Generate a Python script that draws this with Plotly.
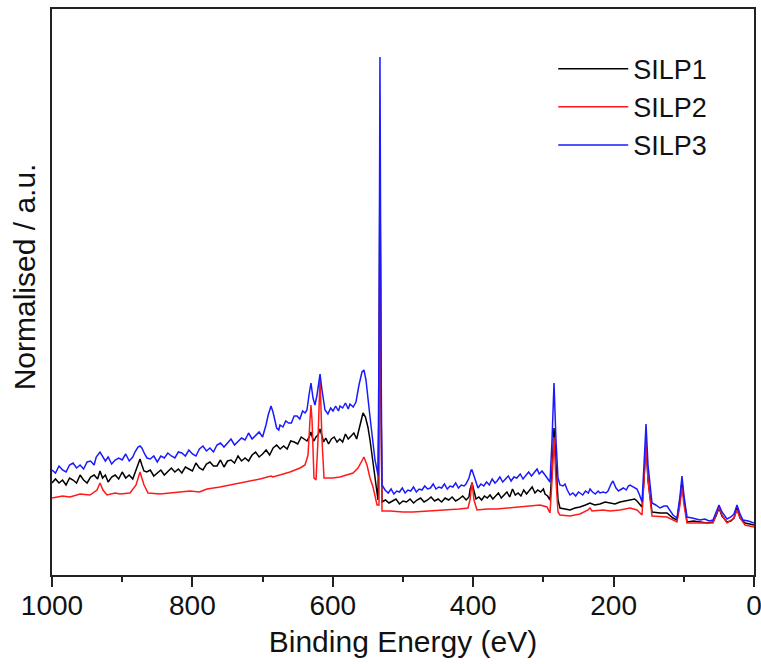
import plotly.graph_objects as go

# (binding energy / eV, normalised intensity / a.u.)
silp1 = [
    (1000, 92), (995, 96), (990, 92), (985, 95), (980, 90), (975, 97), (970, 95), (965, 92), (960, 100), (955, 95),
    (950, 92), (945, 98), (940, 100), (935, 96), (931.6, 104), (928, 97), (924, 100), (920, 93), (915, 98), (910, 100),
    (905, 96), (900, 103), (895, 97), (890, 100), (885, 96), (880, 106), (876.5, 113), (874.6, 116), (872, 110), (869, 104),
    (865, 103), (860, 105), (855, 99), (850, 102), (845, 105), (840, 100), (835, 104), (830, 107), (825, 103), (820, 106),
    (815, 102), (810, 108), (805, 106), (800, 104), (795, 112), (790, 107), (785, 105), (780, 111), (775, 113), (770, 109),
    (765, 109), (760, 115), (755, 108), (750, 114), (745, 115), (740, 112), (735, 119), (730, 114), (725, 117), (720, 114),
    (715, 120), (710, 123), (705, 118), (700, 121), (695, 125), (690, 120), (685, 127), (680, 130), (675, 126), (670, 129),
    (665, 126), (660, 134), (655, 133), (650, 131), (645, 138), (640, 136), (636.8, 134), (633, 139), (631.1, 143), (628.5, 136),
    (626.8, 134), (624, 138), (621, 140), (618.2, 146), (615.5, 138), (613, 133), (610, 137), (606, 131), (602, 136), (598, 138),
    (594, 133), (590, 136), (586, 133), (582, 141), (578, 136), (574, 139), (570, 142), (566, 136), (563, 145), (560, 153),
    (557, 162), (553.5, 158), (550, 148), (547, 135), (544, 118), (541.3, 105), (539, 90), (537, 78), (535.6, 75), (534.2, 175),
    (532.8, 425), (531.3, 175), (529.9, 73), (525, 75), (520, 72), (515, 74), (510, 76), (505, 71), (500, 74), (495, 73),
    (490, 76), (485, 72), (480, 75), (475, 77), (470, 73), (465, 75), (460, 78), (455, 74), (450, 76), (445, 73),
    (440, 77), (435, 75), (430, 78), (425, 74), (420, 76), (415, 79), (410, 75), (406, 78), (404.6, 85), (401.7, 92),
    (398.9, 85), (396, 76), (392, 78), (388, 75), (384, 79), (380, 77), (376, 80), (372, 76), (368, 79), (364, 82),
    (360, 77), (356, 80), (352, 83), (348, 78), (344, 86), (340, 80), (336, 82), (332, 79), (328, 85), (324, 81),
    (320, 84), (316, 88), (312, 82), (308, 85), (304, 83), (300, 86), (297.7, 81), (294, 79), (290.6, 75), (287.7, 105),
    (284.9, 147), (282.1, 105), (279.2, 75), (276.4, 67), (270, 66), (262.1, 65), (255, 67), (247.9, 68), (240, 70), (233.6, 72),
    (227, 70), (219.4, 71), (212, 73), (205.1, 72), (198, 71), (190.9, 73), (184, 74), (176.6, 75), (170, 76), (166.7, 74),
    (162, 70), (159.5, 68), (156.7, 95), (153.8, 134), (151.0, 95), (145.3, 63), (133.9, 62), (123.9, 62), (115.4, 57), (109.7, 55),
    (105.4, 75), (102.6, 93), (99.7, 75), (95.4, 53), (86, 54), (76.9, 53), (67, 52), (58.4, 53), (54.1, 59), (49.9, 67),
    (45.6, 59), (38.5, 53), (33, 54), (28.5, 57), (24.2, 67), (19.9, 57), (12.8, 52), (6, 51), (0, 50),
]

silp2 = [
    (1000, 77), (985, 79), (974.4, 78), (960, 81), (945.9, 80), (935.9, 85), (931.6, 92), (927.4, 85), (921.7, 80), (910, 82),
    (903.1, 81), (888.9, 82), (880.3, 90), (874.6, 103), (868.9, 90), (863.2, 82), (846.2, 81), (827.6, 82), (803.4, 84), (790, 83),
    (779.2, 86), (760.7, 88), (745, 90), (732.2, 92), (715, 94), (703.7, 96), (688.0, 99), (685.2, 98), (661.0, 103), (646.7, 107),
    (639.6, 110), (635.3, 120), (632.5, 155), (631.1, 170), (629.6, 155), (626.8, 97), (623.9, 95), (621.1, 135), (618.2, 197), (615.4, 135),
    (612.5, 97), (600, 97), (589.7, 98), (580, 100), (571.2, 102), (564.1, 107), (559.8, 113), (555.6, 118), (551.3, 110), (547.0, 97),
    (542.7, 88), (537.0, 70), (534.2, 70), (532.8, 405), (531.3, 175), (529.9, 64), (518.5, 64), (500, 63), (485.8, 63), (460, 64),
    (437.3, 65), (420, 66), (407.4, 67), (404.6, 75), (401.7, 93), (398.9, 75), (394.6, 65), (380, 66), (366.1, 66), (350, 67),
    (333.3, 68), (320, 69), (304.8, 70), (294.9, 68), (290.6, 62), (287.7, 95), (284.9, 138), (282.1, 95), (279.2, 63), (276.4, 60),
    (262.1, 59), (247.9, 61), (236.5, 65), (233.6, 67), (230.8, 64), (215, 65), (205.1, 64), (190.9, 65), (176.6, 67), (166.7, 65),
    (159.5, 60), (156.7, 95), (153.8, 134), (151.0, 95), (145.3, 59), (123.9, 58), (109.7, 53), (105.4, 70), (102.6, 88), (99.7, 70),
    (95.4, 52), (58.4, 52), (54.1, 60), (49.9, 68), (45.6, 60), (38.5, 52), (28.5, 57), (24.2, 65), (19.9, 57), (12.8, 50),
    (0, 48),
]

silp3 = [
    (1000, 105), (995, 102), (990, 109), (985, 105), (980, 103), (975, 110), (970, 112), (965, 107), (960, 110), (955, 106),
    (950, 113), (945, 114), (940, 110), (937, 118), (931.6, 123), (928, 118), (924, 114), (920, 118), (915, 111), (910, 115),
    (905, 117), (900, 115), (895, 121), (890, 114), (885, 118), (881.8, 123), (877.5, 128), (874.6, 129), (872, 127), (868, 121),
    (864.7, 117), (860, 116), (855, 119), (850, 113), (845, 119), (840, 117), (835, 122), (830, 119), (825, 117), (820, 123),
    (815, 122), (810, 119), (805, 125), (800, 121), (795, 119), (790, 126), (785, 129), (780, 124), (775, 127), (770, 123),
    (765, 130), (760, 132), (755, 128), (750, 132), (745, 136), (740, 130), (735, 134), (730, 137), (725, 135), (720, 142),
    (715, 136), (710, 140), (705, 143), (700, 138), (697, 145), (695.2, 150), (692, 160), (690, 166), (688, 169), (685.2, 163),
    (682, 152), (680, 147), (677, 145), (675.2, 150), (671, 148), (667, 154), (663, 152), (659, 152), (655, 159), (651, 159),
    (647, 156), (643, 164), (639.5, 162), (636.8, 165), (633.9, 180), (631.1, 192), (628.2, 177), (625.4, 170), (622.5, 180), (618.2, 201),
    (615.4, 185), (611.1, 165), (607, 161), (603, 167), (599.7, 164), (596, 169), (592, 164), (589.7, 169), (586, 167), (582, 172),
    (578, 166), (575.5, 171), (571, 168), (567, 173), (562.7, 190), (558.4, 203), (555.6, 205), (552.7, 195), (547, 158), (543, 135),
    (539.9, 115), (537, 105), (535.6, 100), (534.2, 225), (532.8, 518), (531.3, 225), (529.9, 90), (525.6, 85), (521, 82), (517, 86),
    (513, 81), (509, 84), (505, 83), (501, 87), (497, 82), (493, 85), (489, 84), (485, 88), (481, 83), (477, 86),
    (473, 85), (469, 89), (465, 86), (461, 87), (457, 91), (453, 86), (449, 88), (445, 87), (441, 91), (437, 86),
    (433, 89), (429, 88), (425, 92), (421, 87), (417, 90), (413, 89), (410.3, 91), (406, 97), (403, 105), (401.7, 105),
    (399, 100), (397.4, 96), (393.2, 87), (389, 91), (385, 89), (381, 93), (377, 90), (373, 96), (369, 92), (366, 94),
    (362, 98), (358, 93), (354, 96), (350, 99), (346, 94), (342, 98), (338, 97), (333, 101), (329, 96), (325, 100),
    (321, 103), (317, 99), (313, 102), (309, 106), (306, 101), (302, 104), (297.7, 100), (294, 96), (290.6, 93), (287.7, 135),
    (284.9, 192), (282.1, 135), (279.2, 97), (276.4, 90), (272, 89), (269.2, 91), (266, 85), (262.1, 80), (258, 82), (254, 79),
    (250, 83), (247.9, 82), (244, 80), (240, 84), (236, 82), (233.6, 86), (230, 83), (226, 81), (222, 84), (219.4, 82),
    (215, 83), (211, 82), (208, 84), (203.7, 91), (200.9, 94), (196.6, 87), (193, 84), (190.9, 85), (186, 87), (182, 85),
    (179, 89), (176.6, 90), (172, 88), (169, 87), (166.7, 86), (163, 80), (159.5, 73), (156.7, 110), (153.8, 151), (151.0, 110),
    (145.3, 72), (140, 70), (133.9, 67), (128, 69), (123.9, 69), (115.4, 60), (109.7, 57), (105.4, 79), (102.6, 99), (99.7, 79),
    (95.4, 58), (88, 57), (82, 56), (76.9, 55), (70, 56), (64, 54), (58.4, 55), (54.1, 63), (49.9, 70), (45.6, 63),
    (38.5, 56), (33, 58), (28.5, 61), (24.2, 70), (19.9, 61), (15.7, 55), (8, 54), (0, 52),
]

series_names = ["SILP1", "SILP2", "SILP3"]
series_data = [silp1, silp2, silp3]
series_colors = ["#000000", "#ff1a1a", "#1a1aff"]

fig = go.Figure()
for name, data, color in zip(series_names, series_data, series_colors):
    fig.add_trace(go.Scatter(x=[p[0] for p in data], y=[p[1] for p in data], mode="lines", name=name,
                             line=dict(color=color, width=1.5)))

font_family = "Liberation Sans, Arial, sans-serif"
axis_color = "#222222"

fig.update_layout(
    width=761, height=664,
    margin=dict(l=52, r=7, t=9, b=89, autoexpand=False),
    plot_bgcolor="white", paper_bgcolor="white",
    font=dict(family=font_family, color="#111111", size=28),
    showlegend=True,
    legend=dict(x=0.714, y=0.937, xanchor="left", yanchor="top",
                bgcolor="rgba(0,0,0,0)", font=dict(size=27, color="#111111"),
                itemwidth=70, tracegroupgap=0),
    xaxis=dict(range=[1000, 0], dtick=200, tick0=0, automargin=False,
               ticks="outside", ticklen=10, tickwidth=1.5, tickcolor=axis_color,
               minor=dict(dtick=100, ticks="outside", ticklen=5, tickwidth=1.5, tickcolor=axis_color),
               showline=True, linecolor=axis_color, linewidth=1.5, mirror=True,
               showgrid=False, zeroline=False, ticklabeloverflow="allow",
               tickfont=dict(size=28), ticklabelstandoff=-5,
               title=dict(text="Binding Energy (eV)", font=dict(size=30), standoff=11)),
    yaxis=dict(range=[0, 566], showticklabels=False, ticks="", automargin=False,
               showline=True, linecolor=axis_color, linewidth=1.5, mirror=True,
               showgrid=False, zeroline=False),
    annotations=[dict(text="Normalised / a.u.", textangle=-90, xref="paper", yref="paper",
                      x=-0.0399, y=0.5277, xanchor="center", yanchor="middle",
                      showarrow=False, font=dict(size=30, color="#111111"))],
)

fig.write_html("out.html")
